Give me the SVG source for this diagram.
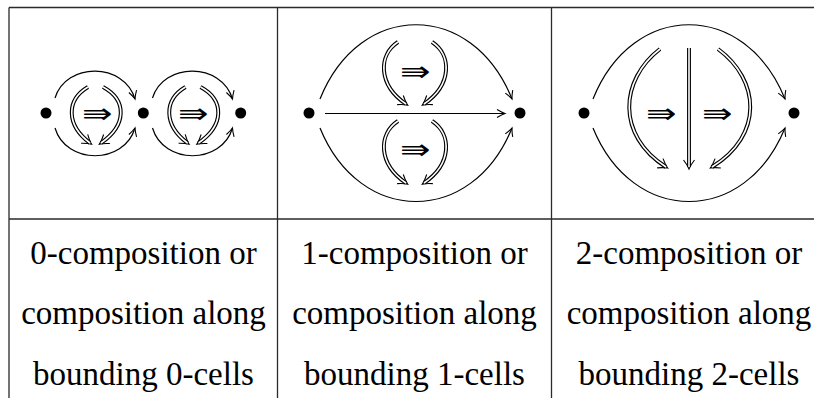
<svg xmlns="http://www.w3.org/2000/svg" width="814" height="398" viewBox="0 0 814 398">
<style>
.rule{stroke:#2a2a2a;stroke-width:1.3;fill:none}
.arc{stroke:#000;stroke-width:1.2;fill:none}
.dblo{stroke:#000;stroke-width:3.9;fill:none}
.dbli{stroke:#fff;stroke-width:1.6;fill:none}
.dot{fill:#000}
.tri{font-family:"DejaVu Sans",sans-serif;font-weight:200;font-size:28px;text-anchor:middle;fill:#000}
.cap{font-family:"Liberation Serif","Times New Roman",serif;font-size:33px;text-anchor:middle;fill:#000}
</style>
<defs>
<marker id="h1" markerUnits="userSpaceOnUse" viewBox="-10 -6 12 12" refX="0" refY="0" markerWidth="12" markerHeight="12" orient="auto" overflow="visible">
<path d="M-8,-4 Q-3,-1 0,0 Q-3,1 -8,4" fill="none" stroke="#000" stroke-width="1.1"/>
</marker>
<marker id="h2" markerUnits="userSpaceOnUse" viewBox="-10 -8 14 16" refX="0" refY="0" markerWidth="14" markerHeight="16" orient="auto" overflow="visible">
<path d="M-7,-5.5 Q-2,-1.6 2,0 Q-2,1.6 -7,5.5" fill="none" stroke="#000" stroke-width="1.1"/>
</marker>
</defs>
<rect width="814" height="398" fill="#fff"/>
<g id="table">
<path class="rule" d="M9,7.5 H814 M9,219 H814 M9,7.5 V398 M277.5,7.5 V398 M551.5,7.5 V398"/>
</g>
<g id="connectors">
<path class="arc" marker-end="url(#h1)" d="M55,98 C66,62 124,62 135,99"/>
<path class="arc" marker-end="url(#h1)" d="M55,128 C66,165 124,165 135,128"/>
<path class="dblo" marker-end="url(#h2)" d="M88,87 C66,100 66,125 90,143"/>
<path class="dbli" d="M88,87 C66,100 66,125 90,143"/>
<path class="dblo" marker-end="url(#h2)" d="M103,87 C127,100 127,125 101,143"/>
<path class="dbli" d="M103,87 C127,100 127,125 101,143"/>
<path class="arc" marker-end="url(#h1)" d="M152.5,98 C163.5,62 221.5,62 232.5,99"/>
<path class="arc" marker-end="url(#h1)" d="M152.5,128 C163.5,165 221.5,165 232.5,128"/>
<path class="dblo" marker-end="url(#h2)" d="M185.5,87 C163.5,100 163.5,125 187.5,143"/>
<path class="dbli" d="M185.5,87 C163.5,100 163.5,125 187.5,143"/>
<path class="dblo" marker-end="url(#h2)" d="M200.5,87 C224.5,100 224.5,125 198.5,143"/>
<path class="dbli" d="M200.5,87 C224.5,100 224.5,125 198.5,143"/>
<path class="arc" marker-end="url(#h1)" d="M320,99 C360,0 472,0 512,99"/>
<path class="arc" marker-end="url(#h1)" d="M320,128 C360,226 472,226 512,128"/>
<path class="arc" marker-end="url(#h1)" d="M325,113.5 L505,113.5"/>
<path class="dblo" marker-end="url(#h2)" d="M398,42 C378,55 378,85 406,104"/>
<path class="dbli" d="M398,42 C378,55 378,85 406,104"/>
<path class="dblo" marker-end="url(#h2)" d="M432,42 C452,55 452,85 424,104"/>
<path class="dbli" d="M432,42 C452,55 452,85 424,104"/>
<path class="dblo" marker-end="url(#h2)" d="M398,121 C378,134 378,164 406,183"/>
<path class="dbli" d="M398,121 C378,134 378,164 406,183"/>
<path class="dblo" marker-end="url(#h2)" d="M432,121 C452,134 452,164 424,183"/>
<path class="dbli" d="M432,121 C452,134 452,164 424,183"/>
<path class="arc" marker-end="url(#h1)" d="M593,99 C633,0 745,0 785,99"/>
<path class="arc" marker-end="url(#h1)" d="M593,128 C633,226 745,226 785,128"/>
<path class="dblo" marker-end="url(#h2)" d="M660,49 C620,80 616,135 666,167"/>
<path class="dbli" d="M660,49 C620,80 616,135 666,167"/>
<path class="dblo" marker-end="url(#h2)" d="M689,48 L689,167"/>
<path class="dbli" d="M689,48 L689,167"/>
<path class="dblo" marker-end="url(#h2)" d="M718,49 C760,80 764,135 712,167"/>
<path class="dbli" d="M718,49 C760,80 764,135 712,167"/>
</g>
<g id="labels3">
<text class="tri" transform="translate(97,113) scale(1.3,1)" y="10">⇛</text>
<text class="tri" transform="translate(193,113) scale(1.3,1)" y="10">⇛</text>
<text class="tri" transform="translate(415,70.5) scale(1.3,1)" y="10">⇛</text>
<text class="tri" transform="translate(415,149) scale(1.3,1)" y="10">⇛</text>
<text class="tri" transform="translate(661,113) scale(1.3,1)" y="10">⇛</text>
<text class="tri" transform="translate(717,113) scale(1.3,1)" y="10">⇛</text>
</g>
<g id="nodes">
<g id="p1a"><circle class="dot" cx="46" cy="113" r="5.5"/></g>
<g id="p1b"><circle class="dot" cx="143.3" cy="113" r="5.5"/></g>
<g id="p1c"><circle class="dot" cx="240.7" cy="113" r="5.5"/></g>
<g id="p2a"><circle class="dot" cx="309" cy="113" r="5.5"/></g>
<g id="p2b"><circle class="dot" cx="520" cy="113" r="5.5"/></g>
<g id="p3a"><circle class="dot" cx="584" cy="113" r="5.5"/></g>
<g id="p3b"><circle class="dot" cx="794" cy="113" r="5.5"/></g>
</g>
<g id="captions">
<text class="cap" x="143.5" y="263.5">0-composition or</text>
<text class="cap" x="143.5" y="324">composition along</text>
<text class="cap" x="143.5" y="384.5">bounding 0-cells</text>
<text class="cap" x="414.5" y="263.5">1-composition or</text>
<text class="cap" x="414.5" y="324">composition along</text>
<text class="cap" x="414.5" y="384.5">bounding 1-cells</text>
<text class="cap" x="689" y="263.5">2-composition or</text>
<text class="cap" x="689" y="324">composition along</text>
<text class="cap" x="689" y="384.5">bounding 2-cells</text>
</g>
</svg>
